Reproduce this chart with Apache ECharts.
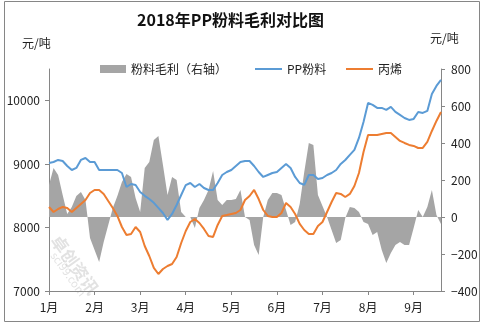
<!DOCTYPE html>
<html>
<head>
<meta charset="utf-8">
<script src="https://cdn.jsdelivr.net/npm/echarts@6/dist/echarts.min.js"></script>
<style>html,body{margin:0;padding:0;background:#fff;}#c{width:484px;height:326px;}</style>
</head>
<body>
<div id="c"></div>
<script>
const months = ['1月','2月','3月','4月','5月','6月','7月','8月','9月'];
const pointsPerMonth = [10,10,10,10,10,10,10,10,7];
const categories = months.flatMap((m, mi) => Array.from({length: pointsPerMonth[mi]}, (_, k) => m + '-' + (k + 1)));

const ppPowder = [
 9019,9034,9066,9050,8971,8908,8940,9066,9097,9034,
 9034,8908,8908,8908,8908,8908,8860,8640,8687,8670,
 8560,8500,8450,8390,8310,8230,8120,8215,8356,8514,
 8670,8703,8640,8687,8624,8593,8593,8703,8829,8876,
 8908,8971,9034,9050,9050,8971,8876,8798,8829,8860,
 8876,8940,9003,8940,8798,8703,8672,8829,8829,8766,
 8782,8829,8860,8908,9003,9066,9145,9224,9413,9665,
 9965,9934,9886,9886,9855,9902,9823,9776,9728,9697,
 9713,9823,9807,9839,10107,10233,10327
];
const propylene = [
 8325,8246,8293,8325,8309,8246,8309,8372,8435,8545,
 8593,8593,8530,8419,8309,8183,8009,7883,7899,8009,
 7930,7710,7552,7363,7268,7347,7394,7426,7536,7757,
 7946,8088,8135,8072,7978,7867,7852,8041,8183,8198,
 8214,8230,8277,8435,8498,8593,8450,8277,8183,8167,
 8167,8230,8388,8325,8214,8057,7962,7899,7899,8025,
 8088,8246,8403,8545,8530,8482,8530,8656,8860,9192,
 9460,9460,9460,9476,9492,9492,9429,9366,9334,9303,
 9287,9255,9255,9350,9523,9681,9823
];
const margin = [
 173,265,227,119,16,54,114,135,92,-114,
 -178,-243,-135,-43,49,114,189,232,216,103,
 27,265,297,416,438,281,119,216,200,27,
 0,0,-60,49,92,146,249,92,65,92,
 92,97,146,0,-16,-151,-205,0,92,130,
 130,119,38,-43,-27,70,243,400,389,119,
 59,0,-70,-140,-124,-5,54,49,27,-27,
 -38,-97,-81,-178,-249,-195,-151,-135,-151,-151,
 -60,38,0,54,146,11,-38
];
const leftTicks = [7000,8000,9000,10000];

const FONT = '"Noto Sans CJK SC", "Noto Sans", sans-serif';
const chart = echarts.init(document.getElementById('c'), null, {renderer: 'canvas'});
const isMonthStart = (idx) => idx % 10 === 0;
const legendText = {fontSize: 12, color: '#222', fontFamily: FONT};

chart.setOption({
  animation: false,
  backgroundColor: '#fff',
  title: {
    text: '2018年PP粉料毛利对比图',
    left: 132, top: 7,
    textStyle: {fontSize: 16, fontWeight: 'bold', color: '#111', fontFamily: FONT}
  },
  legend: [
    {data: [{name: '粉料毛利（右轴）', icon: 'rect'}], left: 95, top: 58, itemWidth: 26, itemHeight: 8, itemGap: 0, textStyle: legendText},
    {data: [{name: 'PP粉料', icon: 'rect'}], left: 250, top: 58, itemWidth: 27, itemHeight: 2, textStyle: legendText},
    {data: [{name: '丙烯', icon: 'rect'}], left: 341, top: 58, itemWidth: 27, itemHeight: 2, textStyle: legendText}
  ],
  grid: {left: 49, right: 43, top: 69, bottom: 35, containLabel: false},
  xAxis: {
    type: 'category',
    data: categories,
    boundaryGap: false,
    axisLine: {onZero: false, lineStyle: {color: '#868686', width: 1}},
    axisTick: {interval: (i) => isMonthStart(i), length: 4, lineStyle: {color: '#868686'}},
    axisLabel: {
      interval: (i) => isMonthStart(i),
      formatter: (v) => v.split('-')[0],
      fontSize: 12, color: '#222', margin: 10, fontFamily: FONT
    },
    splitLine: {show: false}
  },
  yAxis: [
    {
      type: 'value', min: 7000, max: 10500, interval: 1000,
      axisLine: {show: true, lineStyle: {color: '#868686'}},
      axisTick: {show: true, length: 4, customValues: leftTicks, lineStyle: {color: '#868686'}},
      axisLabel: {customValues: leftTicks, fontSize: 12, color: '#222', margin: 9, fontFamily: FONT,
        formatter: (v) => String(v)},
      splitLine: {show: false}
    },
    {
      type: 'value', min: -400, max: 800, interval: 200,
      position: 'right',
      axisLine: {show: true, lineStyle: {color: '#868686'}},
      axisTick: {show: true, length: 4, lineStyle: {color: '#868686'}},
      axisLabel: {fontSize: 12, color: '#222', margin: 10, fontFamily: FONT,
        formatter: (v) => String(v).replace('-', '−')},
      splitLine: {show: false}
    }
  ],
  series: [
    {
      name: '粉料毛利（右轴）', type: 'line', yAxisIndex: 1, data: margin,
      symbol: 'none', lineStyle: {width: 0, color: '#a5a5a5'},
      itemStyle: {color: '#a5a5a5'},
      areaStyle: {color: '#a5a5a5', opacity: 1, origin: 0},
      z: 1
    },
    {
      name: 'PP粉料', type: 'line', yAxisIndex: 0, data: ppPowder,
      symbol: 'none', lineStyle: {width: 2, color: '#5b9bd5'}, itemStyle: {color: '#5b9bd5'}, z: 3
    },
    {
      name: '丙烯', type: 'line', yAxisIndex: 0, data: propylene,
      symbol: 'none', lineStyle: {width: 2, color: '#ed7d31'}, itemStyle: {color: '#ed7d31'}, z: 3
    }
  ],
  graphic: [
    {type: 'rect', shape: {x: 4.5, y: 1.5, width: 475, height: 320}, style: {fill: 'none', stroke: '#868686', lineWidth: 1}, silent: true},
    {type: 'text', left: 22, top: 37, style: {text: '元/吨', fontSize: 12, fill: '#222', fontFamily: FONT}},
    {type: 'text', left: 430, top: 32, style: {text: '元/吨', fontSize: 12, fill: '#222', fontFamily: FONT}},
    {type: 'text', x: 62, y: 232, rotation: -0.95, z: 0,
      style: {text: '卓创资讯', fontSize: 17, fontWeight: 'bold', fill: 'rgba(190,190,190,0.45)', fontFamily: FONT}},
    {type: 'text', x: 58, y: 250, rotation: -0.95, z: 0,
      style: {text: 'sci99.com', fontSize: 11, fill: 'rgba(190,190,190,0.45)', fontFamily: FONT}}
  ]
});
</script>
</body>
</html>
